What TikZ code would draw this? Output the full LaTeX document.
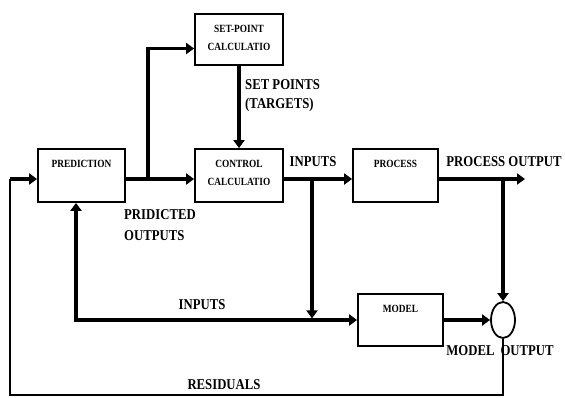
\documentclass[tikz,border=0pt]{standalone}
\usepackage{fontspec}
\setmainfont[FakeStretch=0.85]{Liberation Serif}
\usetikzlibrary{arrows.meta,shapes.geometric}

\begin{document}
\begin{tikzpicture}[x=1pt,y=-1pt,
  block/.style={draw,line width=1.8pt,inner sep=0pt},
  boxtxt/.style={anchor=north,yshift=-11.5pt,inner sep=0pt,align=center,
    font=\bfseries\fontsize{11}{18}\selectfont},
  lbl/.style={inner sep=0pt,align=left,font=\bfseries\fontsize{15}{19}\selectfont},
  flow/.style={line width=3.2pt,-{Triangle[length=8pt,width=11pt]}},
  wire/.style={line width=1.2pt}]
\useasboundingbox (0,0) rectangle (565,397);

% blocks
\node[block,minimum width=88pt,minimum height=51pt,
  label={[boxtxt]north:{SET-POINT\\CALCULATIO}}] (setpt) at (239,39.5) {};
\node[block,minimum width=87pt,minimum height=53pt,
  label={[boxtxt]north:{PREDICTION}}] (pred) at (81.5,175.5) {};
\node[block,minimum width=88pt,minimum height=53pt,
  label={[boxtxt]north:{CONTROL\\CALCULATIO}}] (ctrl) at (239,175.5) {};
\node[block,minimum width=85pt,minimum height=53pt,
  label={[boxtxt]north:{PROCESS}}] (proc) at (395.5,175.5) {};
\node[block,minimum width=85pt,minimum height=52pt,
  label={[boxtxt]north:{MODEL}}] (model) at (400.5,320) {};
\node[block,ellipse,minimum width=24pt,minimum height=36pt] (sum) at (503,320) {};

\coordinate (in) at (10,179);
\coordinate (corner) at (10,395);
\coordinate (out) at (525,179);
\coordinate (tap) at (148,179);
\coordinate (uin) at (312,179);

% signal lines
\draw[wire] (sum.south) -- (sum.south |- corner) -- (corner) -- (in);
\draw[flow] (in) -- (in -| pred.west);
\draw[flow] (in -| pred.east) -- (in -| ctrl.west);
\draw[flow] (tap) |- ([yshift=-9pt]setpt.west);
\draw[flow] (setpt) -- (ctrl);
\draw[flow] (in -| ctrl.east) -- (in -| proc.west);
\draw[flow] (in -| proc.east) -- (out);
\draw[flow] (sum |- in) -- (sum);
\draw[flow,shorten >=1.6pt] (uin) -- (uin |- model);
\draw[flow] (uin |- model) -- (model);
\draw[flow] (uin |- model) -| ([xshift=-5.5pt]pred.south);
\draw[flow,line width=4pt] (model) -- (sum);

% labels
\node[lbl,anchor=west] (sptxt) at (245,95.5) {SET POINTS\\(TARGETS)};
\node[lbl] (intxt) at (313,162) {INPUTS};
\node[lbl] (outtxt) at (504,162) {PROCESS OUTPUT};
\node[lbl,anchor=west,font=\bfseries\fontsize{15}{21}\selectfont] (predtxt) at (124,225.5) {PRIDICTED\\OUTPUTS};
\node[lbl] (inbtxt) at (202,305) {INPUTS};
\node[lbl] (restxt) at (224,385) {RESIDUALS};
\node[lbl] (motxt) at (500,351) {MODEL\hspace{6pt}OUTPUT};
\end{tikzpicture}
\end{document}
